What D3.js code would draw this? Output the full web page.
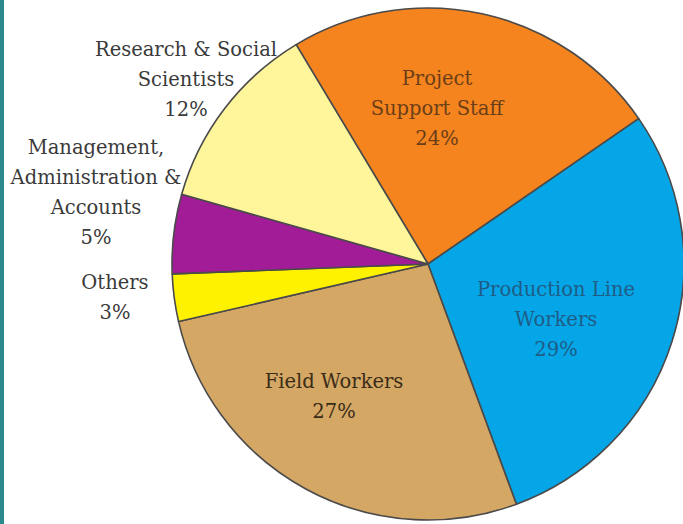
<!DOCTYPE html>
<html>
<head>
<meta charset="utf-8">
<script src="https://cdn.jsdelivr.net/npm/d3@7"></script>
<style>
  html, body { margin: 0; padding: 0; background: #ffffff; }
  svg { display: block; }
</style>
</head>
<body>
<svg id="chart" width="683" height="524"></svg>
<script>
// Data (order clockwise from the top)
const categories = ["Project Support Staff", "Production Line Workers", "Field Workers", "Others", "Management, Administration & Accounts", "Research & Social Scientists"];
const values = [24, 29, 27, 3, 5, 12];
const labelLines = [
  ["Project", "Support Staff", "24%"],
  ["Production Line", "Workers", "29%"],
  ["Field Workers", "27%"],
  ["Others", "3%"],
  ["Management,", "Administration &", "Accounts", "5%"],
  ["Research & Social", "Scientists", "12%"]
];

// Styling / layout
const colors = ["#F5841F", "#04A6E8", "#D4A764", "#FFF200", "#A11C96", "#FFF59A"];
const textColors = ["#6b3e17", "#1f5d86", "#3b2c18", "#3a3a3a", "#3a3a3a", "#3a3a3a"];
const labelCenters = [[437, 108], [556, 319], [334, 396], [115, 297], [96, 192], [186, 79]];

const W = 683, H = 524;
const cx = 428, cy = 264, R = 256;
const svg = d3.select("#chart");

// left teal border strip
svg.append("rect").attr("x", 0).attr("y", 0).attr("width", 4).attr("height", H).attr("fill", "#2B8A8C");

const data = categories.map((c, i) => ({ cat: c, value: values[i], i }));
const startDeg = -31;
const pie = d3.pie().sort(null).value(d => d.value)
  .startAngle(startDeg * Math.PI / 180)
  .endAngle((startDeg + 360) * Math.PI / 180);
const arcs = pie(data);
const arc = d3.arc().innerRadius(0).outerRadius(R);

const g = svg.append("g").attr("transform", `translate(${cx},${cy})`);
g.selectAll("path.slice").data(arcs).enter().append("path")
  .attr("class", "slice")
  .attr("d", arc)
  .attr("fill", d => colors[d.data.i])
  .attr("stroke", "#4a4a4a")
  .attr("stroke-width", 1.6)
  .attr("stroke-linejoin", "round");

const fontSize = 19.5, lineH = 30;

arcs.forEach(d => {
  const i = d.data.i;
  const [x, y] = labelCenters[i];
  const lines = labelLines[i];
  const t = svg.append("text")
    .attr("text-anchor", "middle")
    .attr("font-family", "'DejaVu Serif', 'Liberation Serif', serif")
    .attr("font-size", fontSize)
    .attr("fill", textColors[i]);
  lines.forEach((ln, j) => {
    t.append("tspan")
      .attr("x", x)
      .attr("y", y + (j - (lines.length - 1) / 2) * lineH)
      .attr("dy", "0.35em")
      .text(ln);
  });
});
</script>
</body>
</html>
